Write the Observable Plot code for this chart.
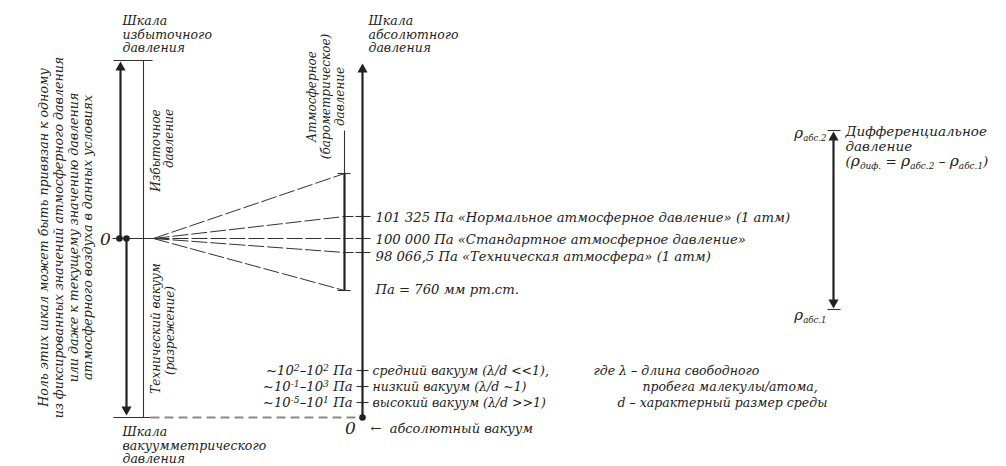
<!DOCTYPE html>
<html><head><meta charset="utf-8">
<script src="https://cdn.jsdelivr.net/npm/d3@7"></script>
<script src="https://cdn.jsdelivr.net/npm/@observablehq/plot@0.6"></script>
<style>body{margin:0;background:#fff} #chart svg{display:block}</style>
</head><body><div id="chart"></div><script>
const W = 1006, H = 466;

// ---- data (diagram units = picture pixels) ----
const thickSegs = [
  {x1:120, y1:238, x2:120, y2:66},   // gauge scale up
  {x1:126, y1:238, x2:126, y2:409},  // vacuum scale down
  {x1:362, y1:417, x2:362, y2:68},   // absolute scale
  {x1:833, y1:137, x2:833, y2:302},  // differential
  {x1:344, y1:173, x2:344, y2:290}   // barometric range
];
const thinSegs = [
  {x1:113, y1:60,  x2:152, y2:60},
  {x1:143, y1:60,  x2:143, y2:417},
  {x1:113, y1:417, x2:150, y2:417},
  {x1:112, y1:238, x2:153, y2:238},
  {x1:344, y1:130, x2:344, y2:173},
  {x1:337, y1:173, x2:350, y2:173},
  {x1:337, y1:290, x2:350, y2:290},
  {x1:355, y1:216, x2:370, y2:216},
  {x1:355, y1:238, x2:370, y2:238},
  {x1:355, y1:252, x2:370, y2:252},
  {x1:356, y1:370, x2:368, y2:370},
  {x1:356, y1:386, x2:368, y2:386},
  {x1:356, y1:402, x2:368, y2:402},
  {x1:827, y1:130, x2:840, y2:130},
  {x1:827, y1:309, x2:840, y2:309}
];
const fanOrigin = {x:153, y:238};
const fanLevels = [173, 216, 238, 252, 290];
const refLevels = [216, 238, 252];
const baroX = 344, absX = 362;
const vacuumLine = [{x1:150, y1:417, x2:362, y2:417}];
const nodeDots = [{x:119, y:238}, {x:126, y:238}, {x:362, y:417}];
const arrowHeads = [
  {x:120, y:67, rot:0}, {x:362, y:69, rot:0}, {x:126, y:409, rot:180},
  {x:833, y:137, rot:0}, {x:833, y:302, rot:180}
];

const headings = [
  {x:122, y:15, text:"Шкала\nизбыточного\nдавления"},
  {x:368, y:15, text:"Шкала\nабсолютного\nдавления"},
  {x:122, y:426, text:"Шкала\nвакуумметрического\nдавления"}
];
const atmLabels = [
  {x:375, y:217, text:"101 325 Па «Нормальное атмосферное давление» (1 атм)"},
  {x:375, y:239, text:"100 000 Па «Стандартное атмосферное давление»"},
  {x:375, y:256, text:"98 066,5 Па «Техническая атмосфера» (1 атм)"},
  {x:375, y:289, text:"Па = 760 мм рт.ст."}
];
const vacRanges = [
  {x:352, y:370, text:"~10^{2}–10^{2} Па"},
  {x:352, y:386, text:"~10^{-1}–10^{3} Па"},
  {x:352, y:402, text:"~10^{-5}–10^{1} Па"}
];
const vacNames = [
  {x:372, y:370, text:"средний вакуум (λ/d <<1),"},
  {x:372, y:386, text:"низкий вакуум (λ/d ~1)"},
  {x:372, y:402, text:"высокий вакуум (λ/d >>1)"}
];
const notes = [
  {x:593, y:370, text:"где λ – длина свободного"},
  {x:642, y:386, text:"пробега малекулы/атома,"},
  {x:617, y:402, text:"d – характерный размер среды"}
];
const absVacuum = [{x:370, y:428, text:"←  абсолютный вакуум"}];
const diffNote = [{x:845, y:125, text:"Дифференциальное\nдавление\n(ρ_{диф.} = ρ_{абс.2} – ρ_{абс.1})"}];
const zeros = [{x:105, y:239, text:"0"}, {x:350, y:428, text:"0"}];
const rhoLabels = [
  {x:826, y:133, text:"ρ_{абс.2}"},
  {x:826, y:315, text:"ρ_{абс.1}"}
];
const rotLabels = [
  {x:155, y:150, text:"Избыточное"},
  {x:168, y:138, text:"давление"},
  {x:155, y:328, text:"Технический вакуум"},
  {x:169, y:330, text:"(разрежение)"},
  {x:325, y:96,  text:"Атмосферное\n(барометрическое)\nдавление"}
];
const sideNote = [{x:65, y:237, text:"Ноль этих шкал может быть привязан к одному\nиз фиксированных значений атмосферного давления\nили даже к текущему значению давления\nатмосферного воздуха в данных условиях"}];

// ---- derived tables ----
const fanSegs = fanLevels.map(l => ({x1:fanOrigin.x, y1:fanOrigin.y, x2:baroX, y2:l}));
const refSegs = refLevels.map(l => ({x1:baroX, y1:l, x2:absX, y2:l}));

const FONT = "DejaVu Serif";
const INK = "#222";
const txt = {fontFamily: FONT, fontStyle: "italic", fill: INK, fontSize: 12.5};
const seg = {x1:"x1", y1:"y1", x2:"x2", y2:"y2"};
const pos = {x:"x", y:"y", text:"text"};

const plot = Plot.plot({
  width: W, height: H, margin: 0,
  x: {domain: [0, W], range: [0, W], axis: null},
  y: {domain: [0, H], range: [0, H], axis: null},
  marks: [
    Plot.link(vacuumLine, {...seg, stroke:"#8a8a8a", strokeWidth:2, strokeDasharray:"9,5"}),
    Plot.link(fanSegs, {...seg, stroke:"#333", strokeWidth:1, strokeDasharray:"16,3"}),
    Plot.link(refSegs, {...seg, stroke:"#333", strokeWidth:1, strokeDasharray:"9,4"}),
    Plot.link(thinSegs, {...seg, stroke:"#333", strokeWidth:1.1}),
    Plot.link(thickSegs, {...seg, stroke:INK, strokeWidth:2.2}),
    Plot.dot(arrowHeads, {x:"x", y:"y", rotate:"rot", symbol:"triangle", r:3.8, fill:INK, stroke:"none"}),
    Plot.dot(nodeDots, {x:"x", y:"y", r:3.3, fill:INK, stroke:"none"}),
    Plot.text(headings, {...pos, textAnchor:"start", lineAnchor:"top", lineHeight:1.08, ...txt}),
    Plot.text(atmLabels, {...pos, textAnchor:"start", ...txt, fontSize:13.2}),
    Plot.text(vacRanges, {...pos, textAnchor:"end", ...txt, fontSize:13.2}),
    Plot.text(vacNames, {...pos, textAnchor:"start", ...txt}),
    Plot.text(notes, {...pos, textAnchor:"start", ...txt}),
    Plot.text(absVacuum, {...pos, textAnchor:"start", ...txt, fontSize:13}),
    Plot.text(diffNote, {...pos, textAnchor:"start", lineAnchor:"top", lineHeight:1.12, ...txt, fontSize:13.5}),
    Plot.text(zeros, {...pos, ...txt, fontSize:17}),
    Plot.text(rhoLabels, {...pos, textAnchor:"end", ...txt, fontSize:13}),
    Plot.text(rotLabels, {...pos, rotate:-90, textAnchor:"middle", lineHeight:1.15, ...txt, fontSize:12}),
    Plot.text(sideNote, {...pos, rotate:-90, textAnchor:"middle", lineHeight:1.16, ...txt, fontSize:12.6})
  ]
});

// render _{...} and ^{...} as real sub/superscript tspans; enlarge ρ
const NS = "http://www.w3.org/2000/svg";
function richify(el) {
  const s = el.textContent;
  if (!/[_^]\{|ρ/.test(s)) return;
  const parts = s.split(/([_^]\{[^}]*\}|ρ)/);
  while (el.firstChild) el.removeChild(el.firstChild);
  for (const p of parts) {
    if (!p) continue;
    const t = document.createElementNS(NS, "tspan");
    const m = p.match(/^([_^])\{([^}]*)\}$/);
    if (m) {
      t.textContent = m[2];
      t.setAttribute("font-size", m[1] === "_" ? "0.66em" : "0.7em");
      t.setAttribute("baseline-shift", m[1] === "_" ? "-30%" : "45%");
    } else if (p === "ρ") {
      t.textContent = p;
      t.setAttribute("font-size", "1.15em");
    } else t.textContent = p;
    el.appendChild(t);
  }
}
plot.querySelectorAll("text, tspan").forEach(el => {
  if (el.children.length === 0) richify(el);
});
document.getElementById("chart").appendChild(plot);
</script></body></html>
